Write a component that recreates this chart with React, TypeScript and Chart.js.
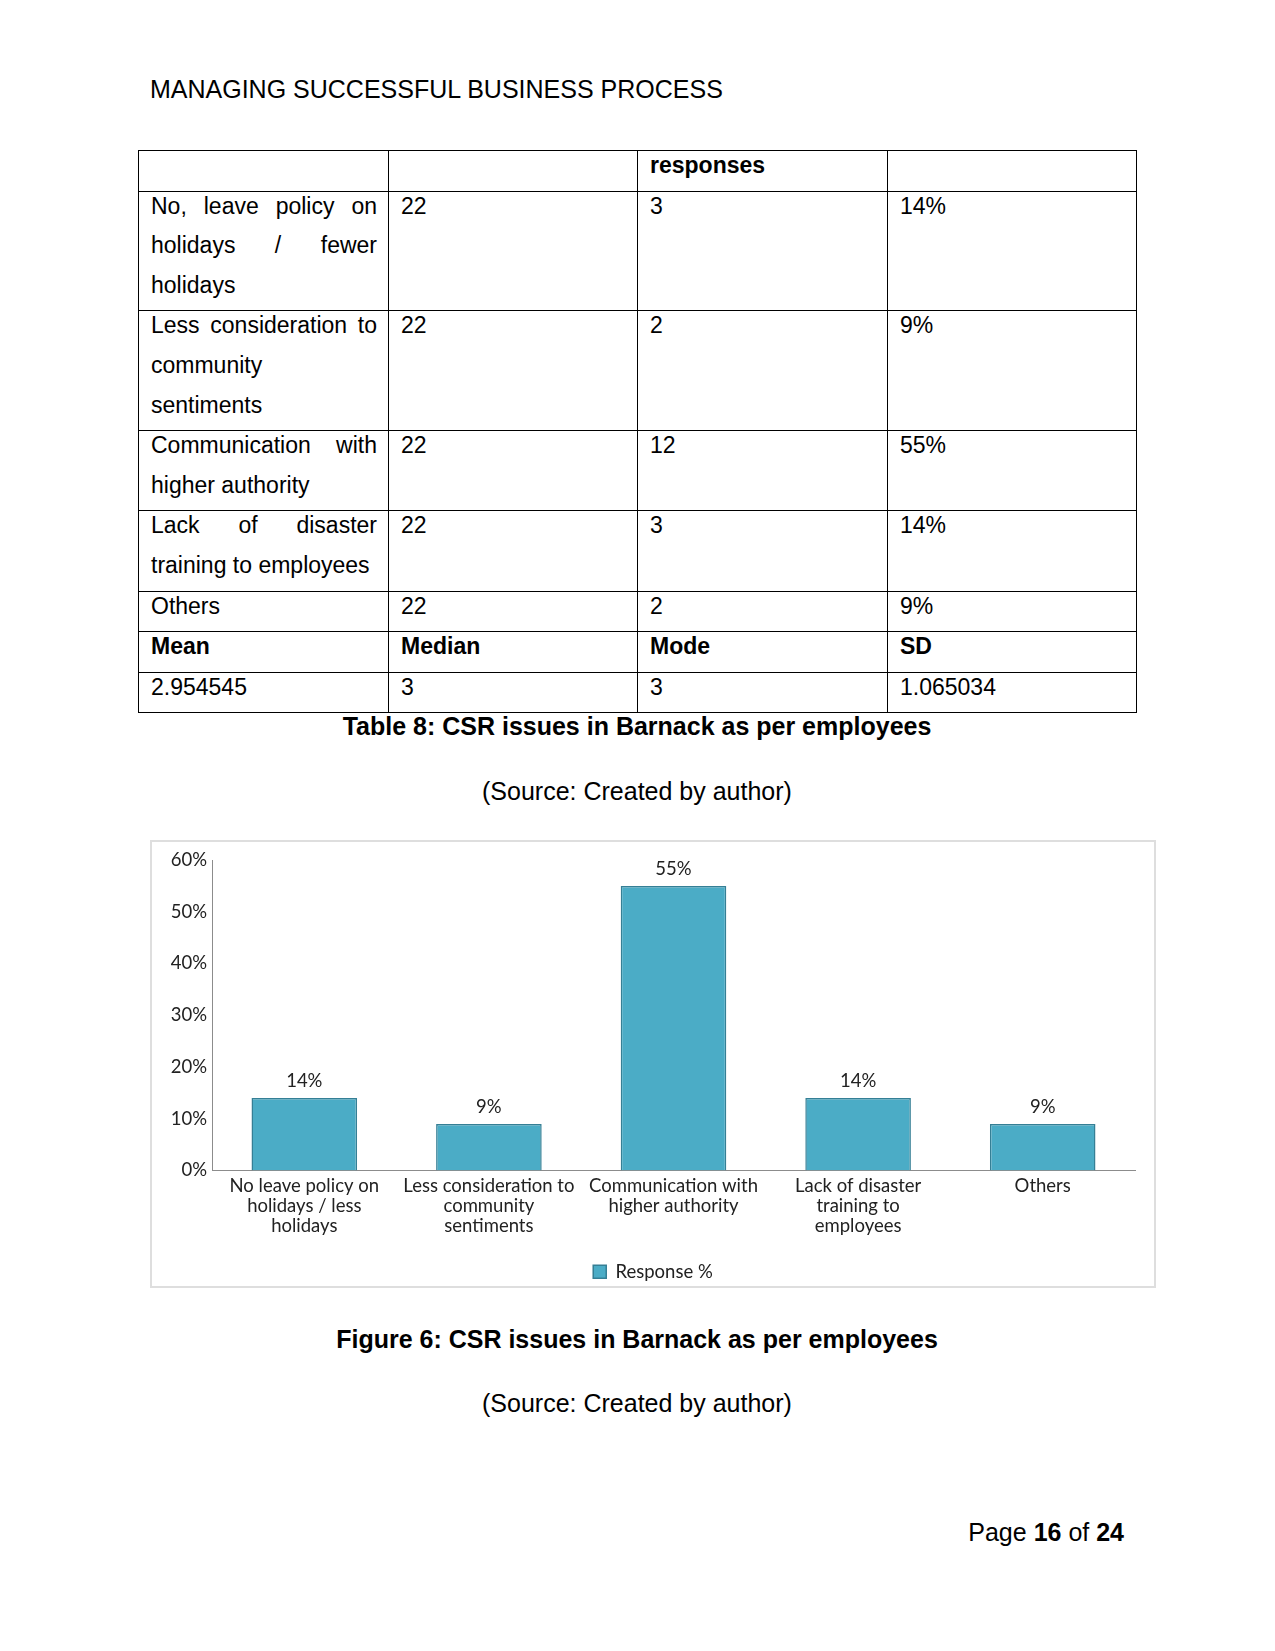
import React, { useEffect, useRef } from "react";
import { Chart, registerables } from "chart.js";

Chart.register(...registerables);

const categories: (string | string[])[] = [
  ["No leave policy on", "holidays / less", "holidays"],
  ["Less consideration to", "community", "sentiments"],
  ["Communication with", "higher authority"],
  ["Lack of disaster", "training to", "employees"],
  "Others",
];
const responsePct = [14, 9, 55, 14, 9];
const seriesName = "Response %";
const yTicks = [0, 10, 20, 30, 40, 50, 60];

const tableRowLabels: string[][] = [
  ["No, leave policy on", "holidays / fewer", "holidays"],
  ["Less consideration to", "community", "sentiments"],
  ["Communication with", "higher authority"],
  ["Lack of disaster", "training to employees"],
  ["Others"],
];
const tableTotals = ["22", "22", "22", "22", "22"];
const tableResponses = ["3", "2", "12", "3", "2"];
const tablePercents = ["14%", "9%", "55%", "14%", "9%"];
const statHeaders = ["Mean", "Median", "Mode", "SD"];
const statValues = ["2.954545", "3", "3", "1.065034"];
const rowHeights = [40, 118, 120, 80, 80, 40, 41, 40];

const PAGE_FONT = "'Liberation Sans', Arial, sans-serif";
const CHART_FONT = "Lato, 'Noto Sans', sans-serif";
const CHART_TEXT = "#222222";

function BarChart() {
  const ref = useRef<HTMLCanvasElement | null>(null);
  useEffect(() => {
    if (!ref.current) return;
    const valueLabels = {
      id: "valueLabels",
      afterDatasetsDraw(chart: any) {
        const ctx = chart.ctx;
        const meta = chart.getDatasetMeta(0);
        ctx.save();
        ctx.font = `18.5px ${CHART_FONT}`;
        ctx.fillStyle = CHART_TEXT;
        ctx.textAlign = "center";
        ctx.textBaseline = "middle";
        meta.data.forEach((el: any, i: number) => {
          ctx.fillText(responsePct[i] + "%", el.x, el.y - 17);
        });
        ctx.restore();
      },
    };
    const chart = new Chart(ref.current, {
      type: "bar",
      data: {
        labels: categories,
        datasets: [
          {
            label: seriesName,
            data: responsePct,
            backgroundColor: "#4bacc6",
            borderColor: "#357f95",
            borderWidth: 1.5,
            categoryPercentage: 1,
            barPercentage: 0.572,
          },
        ],
      },
      options: {
        animation: false,
        responsive: false,
        maintainAspectRatio: false,
        layout: { padding: { left: 0, right: 0, top: 18, bottom: 0 } },
        plugins: {
          tooltip: { enabled: false },
          legend: {
            position: "bottom",
            labels: {
              font: { family: CHART_FONT, size: 18.5 },
              color: CHART_TEXT,
              boxWidth: 13,
              boxHeight: 13,
              padding: 2,
            },
          },
        },
        scales: {
          x: {
            grid: { display: false, drawTicks: false },
            border: { display: true, color: "#8c8c8c", width: 1 },
            ticks: {
              font: { family: CHART_FONT, size: 18.5, lineHeight: 1.08 },
              color: CHART_TEXT,
              padding: 6,
              autoSkip: false,
              maxRotation: 0,
            },
            afterFit: (s: any) => {
              s.height = 90;
            },
          },
          y: {
            min: 0,
            max: 60,
            grid: { display: false, drawTicks: false },
            border: { display: true, color: "#8c8c8c", width: 1 },
            afterBuildTicks: (s: any) => {
              s.ticks = yTicks.map((v) => ({ value: v }));
            },
            ticks: {
              font: { family: CHART_FONT, size: 18.5 },
              color: CHART_TEXT,
              padding: 5,
              callback: (v: any) => v + "%",
            },
            afterFit: (s: any) => {
              s.width = 60;
            },
          },
          spacer: {
            type: "linear",
            position: "right",
            display: true,
            grid: { display: false, drawTicks: false },
            border: { display: false },
            ticks: { display: false },
            afterFit: (s: any) => {
              s.width = 19;
            },
          },
        },
      },
      plugins: [valueLabels],
    });
    return () => chart.destroy();
  }, []);
  return <canvas ref={ref} width={1002} height={449} style={{ display: "block" }} />;
}

const abs = (left: number, top: number, extra: React.CSSProperties = {}): React.CSSProperties => ({
  position: "absolute",
  left,
  top,
  ...extra,
});

function CellLines({ lines }: { lines: string[] }) {
  return (
    <div style={{ position: "relative", top: -5 }}>
      {lines.map((l, i) => (
        <div
          key={i}
          style={{
            lineHeight: "39.6px",
            textAlign: "justify",
            textAlignLast: i < lines.length - 1 && l.includes(" ") ? "justify" : "left",
            whiteSpace: "nowrap",
          }}
        >
          {l}
        </div>
      ))}
    </div>
  );
}

export default function App() {
  const td = (h: number, extra: React.CSSProperties = {}): React.CSSProperties => ({
    border: "1px solid #000",
    height: h - 1,
    padding: "0 11px 0 12px",
    verticalAlign: "top",
    boxSizing: "border-box",
    overflow: "hidden",
    ...extra,
  });
  const rows = tableRowLabels.map((lines, i) => (
    <tr key={i}>
      <td style={td(rowHeights[i + 1])}>
        <CellLines lines={lines} />
      </td>
      <td style={td(rowHeights[i + 1])}>
        <CellLines lines={[tableTotals[i]]} />
      </td>
      <td style={td(rowHeights[i + 1])}>
        <CellLines lines={[tableResponses[i]]} />
      </td>
      <td style={td(rowHeights[i + 1])}>
        <CellLines lines={[tablePercents[i]]} />
      </td>
    </tr>
  ));
  return (
    <div style={{ fontFamily: PAGE_FONT, fontSize: 25, color: "#000" }}>
      <div style={abs(150, 74, { lineHeight: "30px", whiteSpace: "nowrap" })}>
        MANAGING SUCCESSFUL BUSINESS PROCESS
      </div>
      <table
        style={abs(138, 150, {
          borderCollapse: "collapse",
          tableLayout: "fixed",
          width: 998,
          fontSize: 23,
        })}
      >
        <colgroup>
          <col style={{ width: 250 }} />
          <col style={{ width: 249 }} />
          <col style={{ width: 250 }} />
          <col style={{ width: 249 }} />
        </colgroup>
        <tbody>
          <tr>
            <td style={td(rowHeights[0])}></td>
            <td style={td(rowHeights[0])}></td>
            <td style={td(rowHeights[0], { fontWeight: "bold" })}>
              <CellLines lines={["responses"]} />
            </td>
            <td style={td(rowHeights[0])}></td>
          </tr>
          {rows}
          <tr>
            {statHeaders.map((h, i) => (
              <td key={i} style={td(rowHeights[6], { fontWeight: "bold" })}>
                <CellLines lines={[h]} />
              </td>
            ))}
          </tr>
          <tr>
            {statValues.map((h, i) => (
              <td key={i} style={td(rowHeights[7])}>
                <CellLines lines={[h]} />
              </td>
            ))}
          </tr>
        </tbody>
      </table>
      <div style={abs(150, 711, { width: 974, textAlign: "center", lineHeight: "30px", fontWeight: "bold" })}>
        Table 8: CSR issues in Barnack as per employees
      </div>
      <div style={abs(150, 776, { width: 974, textAlign: "center", lineHeight: "30px" })}>
        (Source: Created by author)
      </div>
      <div
        style={abs(150, 840, {
          width: 1006,
          height: 448,
          border: "2px solid #dedede",
          boxSizing: "border-box",
        })}
      >
        <BarChart />
      </div>
      <div style={abs(150, 1324, { width: 974, textAlign: "center", lineHeight: "30px", fontWeight: "bold" })}>
        Figure 6: CSR issues in Barnack as per employees
      </div>
      <div style={abs(150, 1388, { width: 974, textAlign: "center", lineHeight: "30px" })}>
        (Source: Created by author)
      </div>
      <div style={abs(700, 1517, { width: 424, textAlign: "right", lineHeight: "30px" })}>
        Page <b>16</b> of <b>24</b>
      </div>
    </div>
  );
}
